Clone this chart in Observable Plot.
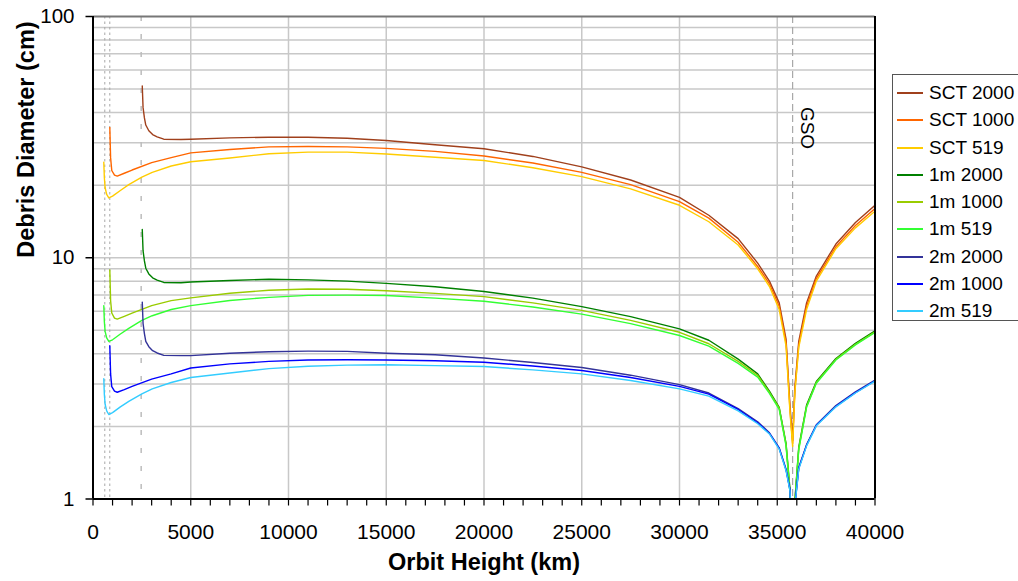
<!DOCTYPE html>
<html>
<head>
<meta charset="utf-8">
<script src="https://cdn.jsdelivr.net/npm/d3@7"></script>
<script src="https://cdn.jsdelivr.net/npm/@observablehq/plot@0.6"></script>
<style>
  html, body { margin: 0; padding: 0; background: #fff; }
  #wrap { position: relative; width: 1018px; height: 581px; font-family: "Liberation Sans", Arial, sans-serif; }
  #legend { position: absolute; left: 892px; top: 74px; width: 140px; height: 247px; border: 1px solid #555; background: #fff; box-sizing: border-box; padding-top: 4px; }
  .row { height: 27.3px; line-height: 27.3px; font-size: 19px; color: #000; white-space: nowrap; }
  .sw { display: inline-block; width: 26px; height: 2px; vertical-align: middle; margin-left: 4px; margin-right: 6px; position: relative; top: -1px; }
</style>
</head>
<body>
<div id="wrap"></div>
<script>
// ---- categories and colours ----
const seriesNames = ["SCT 2000","SCT 1000","SCT 519","1m 2000","1m 1000","1m 519","2m 2000","2m 1000","2m 519"];
const seriesColors = ["#a0401c","#ff6600","#ffcc00","#008000","#99cc00","#33ff33","#333399","#0000ff","#33ccff"];

// ---- axis ticks ----
const yTickValues = [1, 10, 100];
const yGridValues = [2,3,4,5,6,7,8,9,10,20,30,40,50,60,70,80,90];
const xGridValues = [5000,10000,15000,20000,25000,30000,35000];
const xTickValues = d3.range(0, 40001, 1000);

// ---- marker lines (km) ----
const markerShort = [603, 859];
const markerLong = [2464];
const gsoHeight = [35786];

// ---- common orbit heights for body of curves (km) ----
const bodyHeights = [5000,7000,9000,11000,13000,15000,17500,20000,22500,25000,27500,30000,31500,33000,34000,34600,35100,35450,35650,35786,35900,36100,36500,37000,38000,39000,40000];

// ---- 2000 group heads ----
const head2000X = [2520,2560,2630,2700,2855,3050,3280,3620,4500];
const sct2000Head = [51.5,42,38,35.5,33.6,32.4,31.7,31.0,30.9];
const m1_2000Head = [13.1,10.7,9.7,9.05,8.57,8.26,8.08,7.9,7.88];
const m2_2000Head = [6.55,5.35,4.85,4.5,4.28,4.12,4.03,3.94,3.93];

// ---- 1000 group heads ----
const head1000X = [860,900,960,1100,1240,1600,2000,3000,4000];
const sct1000Head = [34.7,26,23,22,21.8,22.4,23.1,24.8,26.0];
const m1_1000Head = [8.9,6.65,5.9,5.62,5.57,5.72,5.9,6.33,6.64];
const m2_1000Head = [4.32,3.3,2.92,2.8,2.77,2.84,2.93,3.14,3.3];

// ---- 519 group heads ----
const head519X = [552,580,620,700,808,1000,1400,1830,2500,3030,4000];
const sct519Head = [24.9,21.5,19.5,18.3,17.7,18.0,19.0,20.1,21.6,22.6,24.0];
const m1_519Head = [6.33,5.45,4.95,4.65,4.5,4.57,4.83,5.1,5.5,5.75,6.1];
const m2_519Head = [3.15,2.72,2.47,2.32,2.24,2.28,2.41,2.54,2.73,2.86,3.04];

// ---- bodies (cm) at bodyHeights ----
const sct2000Body = [31.0,31.4,31.6,31.6,31.3,30.6,29.4,28.3,26.3,23.8,21.0,17.8,15.0,12.0,9.5,8.0,6.5,4.6,2.45,1.75,2.9,4.5,6.5,8.4,11.4,14.0,16.5];
const sct1000Body = [27.2,28.1,28.8,28.9,28.8,28.4,27.6,26.4,24.7,22.6,20.1,17.1,14.6,11.6,9.2,7.8,6.3,4.45,2.35,1.7,2.8,4.35,6.3,8.2,11.1,13.6,16.0];
const sct519Body = [25.0,25.9,27.0,27.4,27.4,26.9,26.1,25.3,23.6,21.7,19.3,16.5,14.1,11.3,9.0,7.6,6.1,4.3,2.3,1.65,2.75,4.25,6.1,8.0,10.9,13.3,15.6];
const m1_2000Body = [7.93,8.05,8.15,8.1,8.0,7.83,7.58,7.25,6.8,6.27,5.7,5.07,4.55,3.8,3.3,2.8,2.4,1.7,1.1,0.6,0.98,1.64,2.45,3.07,3.82,4.42,4.98];
const m1_1000Body = [6.82,7.13,7.33,7.42,7.4,7.3,7.12,6.9,6.5,6.05,5.5,4.91,4.4,3.72,3.25,2.77,2.38,1.68,1.08,0.6,0.97,1.62,2.42,3.04,3.79,4.38,4.93];
const m1_519Body = [6.33,6.65,6.85,6.98,7.0,6.97,6.8,6.6,6.25,5.84,5.33,4.76,4.3,3.65,3.2,2.74,2.35,1.66,1.06,0.6,0.96,1.6,2.4,3.02,3.77,4.35,4.9];
const m2_2000Body = [3.93,4.02,4.08,4.1,4.09,4.02,3.96,3.84,3.68,3.51,3.26,2.98,2.75,2.37,2.09,1.88,1.63,1.33,1.1,0.6,0.95,1.35,1.68,2.03,2.44,2.78,3.11];
const m2_1000Body = [3.49,3.63,3.72,3.77,3.78,3.77,3.74,3.69,3.56,3.41,3.19,2.93,2.72,2.35,2.07,1.87,1.62,1.32,1.09,0.6,0.94,1.34,1.67,2.02,2.42,2.76,3.09];
const m2_519Body = [3.19,3.33,3.47,3.55,3.59,3.6,3.57,3.54,3.43,3.3,3.1,2.86,2.67,2.32,2.05,1.86,1.61,1.31,1.08,0.6,0.93,1.33,1.66,2.01,2.41,2.75,3.08];

// ---- assemble table ----
const parts = [
  ["SCT 2000", head2000X, sct2000Head, sct2000Body],
  ["SCT 1000", head1000X, sct1000Head, sct1000Body],
  ["SCT 519",  head519X,  sct519Head,  sct519Body],
  ["1m 2000",  head2000X, m1_2000Head, m1_2000Body],
  ["1m 1000",  head1000X, m1_1000Head, m1_1000Body],
  ["1m 519",   head519X,  m1_519Head,  m1_519Body],
  ["2m 2000",  head2000X, m2_2000Head, m2_2000Body],
  ["2m 1000",  head1000X, m2_1000Head, m2_1000Body],
  ["2m 519",   head519X,  m2_519Head,  m2_519Body]
];
const rows = [];
for (const [name, hx, hy, by] of parts) {
  hx.forEach((x, i) => rows.push({series: name, h: x, d: hy[i]}));
  bodyHeights.forEach((x, i) => rows.push({series: name, h: x, d: by[i]}));
}

const font = "'Liberation Sans', Arial, sans-serif";

const chart = Plot.plot({
  width: 1018,
  height: 581,
  marginTop: 16,
  marginBottom: 82.5,
  marginLeft: 92.5,
  marginRight: 143.5,
  style: {fontFamily: font, background: "#fff", color: "#000"},
  x: {domain: [0, 40000]},
  y: {type: "log", domain: [1, 100]},
  color: {domain: seriesNames, range: seriesColors},
  marks: [
    Plot.gridY(yGridValues, {stroke: "#c8c8c8", strokeOpacity: 1, strokeWidth: 1.5}),
    Plot.gridX(xGridValues, {stroke: "#c8c8c8", strokeOpacity: 1, strokeWidth: 1.5}),
    Plot.ruleX(markerShort, {stroke: "#a8a8a8", strokeWidth: 1, strokeDasharray: "2.5,3"}),
    Plot.ruleX(markerLong, {stroke: "#bcbcbc", strokeWidth: 1.5, strokeDasharray: "5,13"}),
    Plot.ruleX(gsoHeight, {stroke: "#a8a8a8", strokeWidth: 1.2, strokeDasharray: "7,4"}),
    Plot.line(rows, {x: "h", y: "d", z: "series", stroke: "series", strokeWidth: 1.4, clip: true, curve: "linear"}),
    Plot.ruleY([100], {stroke: "#777", strokeWidth: 2}),
    Plot.ruleX([40000], {stroke: "#000", strokeWidth: 2}),
    Plot.ruleX([0], {stroke: "#000", strokeWidth: 2}),
    Plot.ruleY([1], {stroke: "#000", strokeWidth: 2}),
    Plot.axisY(yTickValues, {tickSize: 7, tickPadding: 11.5, fontSize: 20.5, label: null, tickFormat: d3.format("d"), strokeWidth: 1.5}),
    Plot.axisX(xTickValues, {tickSize: 7, tickPadding: 18, fontSize: 21, label: null, tickFormat: d => d % 5000 === 0 ? d3.format("d")(d) : "", strokeWidth: 1.2}),
    Plot.text(["GSO"], {x: gsoHeight, frameAnchor: "top", dx: 22, dy: 111.5, rotate: 90, fontSize: 19, fill: "#000"}),
    Plot.text(["Orbit Height (km)"], {frameAnchor: "bottom", dy: 71, fontSize: 23.5, fontWeight: "bold", fill: "#000"}),
    Plot.text(["Debris Diameter (cm)"], {frameAnchor: "left", dx: -67, rotate: -90, fontSize: 23.5, fontWeight: "bold", fill: "#000"})
  ]
});

const wrap = document.getElementById("wrap");
wrap.appendChild(chart);
chart.style.position = "absolute";
chart.style.left = "0";
chart.style.top = "0";

const legend = document.createElement("div");
legend.id = "legend";
seriesNames.forEach((name, i) => {
  const row = document.createElement("div");
  row.className = "row";
  const sw = document.createElement("span");
  sw.className = "sw";
  sw.style.background = seriesColors[i];
  row.appendChild(sw);
  row.appendChild(document.createTextNode(name));
  legend.appendChild(row);
});
wrap.appendChild(legend);
</script>
</body>
</html>
